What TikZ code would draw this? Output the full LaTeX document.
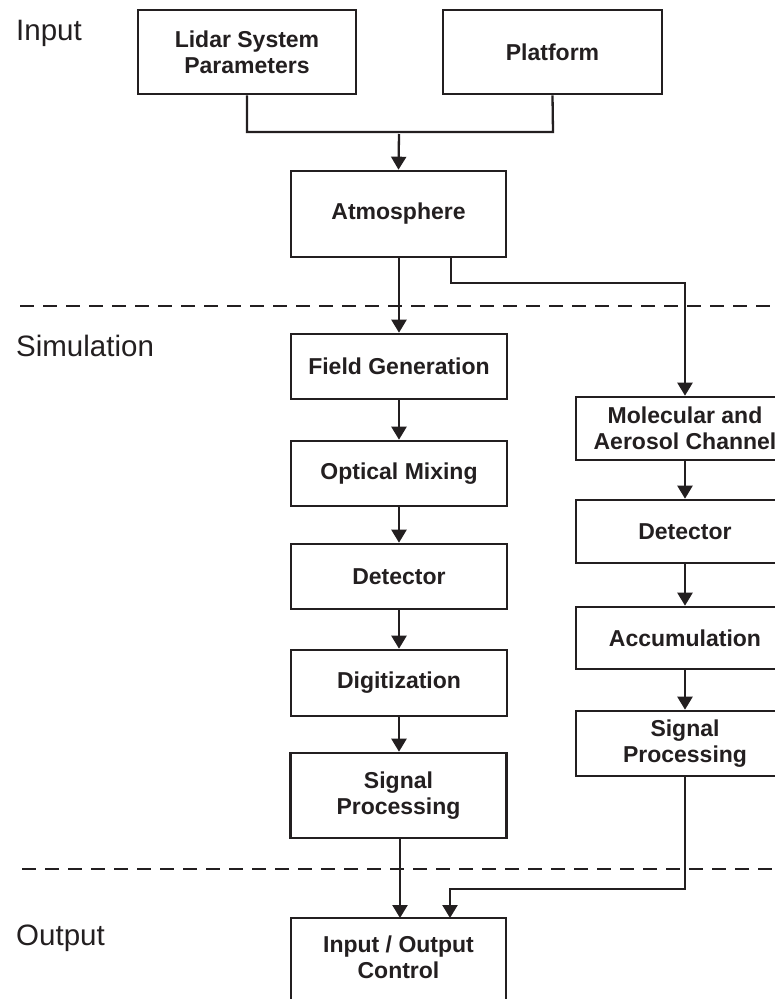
\documentclass[tikz,border=0pt]{standalone}
\usepackage{fontspec}
\setmainfont{Liberation Sans}
\usetikzlibrary{arrows.meta}
\definecolor{ink}{RGB}{35,31,32}
\tikzset{
  blk/.style={draw=ink, line width=2.6pt, text=ink, align=center, inner sep=0pt,
    font=\fontsize{23}{26}\selectfont\bfseries},
  conn/.style={draw=ink, line width=2.3pt},
  arr/.style={conn, -{Triangle[length=13pt,width=15pt]}},
  sep/.style={draw=ink, line width=2.6pt, dash pattern=on 14pt off 9pt},
  lbl/.style={anchor=west, text=ink, inner sep=0pt, font=\fontsize{29.5}{32}\selectfont}
}
\begin{document}
\begin{tikzpicture}[x=1pt,y=-1pt]
\path[use as bounding box, clip] (0,0) rectangle (775,999);
\fill[white] (0,0) rectangle (775,999);

% labels
\node[lbl] (lin) at (16,33) {Input};
\node[lbl] (lsim) at (16,346) {Simulation};
\node[lbl] (lout) at (16,938) {Output};

% separators
\coordinate (s1a) at (20,306);
\coordinate (s1b) at (780,306);
\coordinate (s2a) at (22,869);
\coordinate (s2b) at (780,869);
\draw[sep] (s1a) -- (s1b);
\draw[sep] (s2a) -- (s2b);

% input boxes
\node[blk, minimum width=218pt, minimum height=84pt] (lidar) at (247,52) {Lidar System\\Parameters};
\node[blk, minimum width=219pt, minimum height=84pt] (plat) at (552.5,52) {Platform};
\node[blk, minimum width=215pt, minimum height=86pt] (atm) at (398.5,214) {Atmosphere};

% left column
\node[blk, minimum width=216pt, minimum height=65pt] (fg) at (399,366.5) {Field Generation};
\node[blk, minimum width=216pt, minimum height=65pt] (om) at (399,473.5) {Optical Mixing};
\node[blk, minimum width=216pt, minimum height=65pt] (detl) at (399,576.5) {Detector};
\node[blk, minimum width=216pt, minimum height=66pt] (dig) at (399,683) {Digitization};
\node[blk, minimum width=216pt, minimum height=85pt] (spl) at (398.5,795.5) {Signal\\Processing};

% right column
\node[blk, minimum width=218pt, minimum height=63pt] (mol) at (685,428.5) {Molecular and\\Aerosol Channel};
\node[blk, minimum width=218pt, minimum height=63pt] (detr) at (685,531.5) {Detector};
\node[blk, minimum width=218pt, minimum height=62pt] (acc) at (685,638) {Accumulation};
\node[blk, minimum width=218pt, minimum height=65pt] (spr) at (685,743.5) {Signal\\Processing};

% output
\node[blk, minimum width=215pt, minimum height=86pt] (io) at (398.5,961) {};
\node[blk, draw=none] (iot) at (398.5,957) {Input / Output\\Control};

% connectors top
\coordinate (jl) at (247,132);
\coordinate (jr) at (553,132);
\coordinate (jm) at (399,134);
\draw[conn] (lidar.south) -- (jl) -- (jr) -- (plat.south);
\draw[arr] (jm) -- (atm.north);

% atmosphere branches
\draw[arr] (atm.south -| fg.north) -- (fg.north);
\coordinate (b1) at (451,257);
\coordinate (b2) at (451,283);
\coordinate (b3) at (685,283);
\draw[arr] (b1) -- (b2) -- (b3) -- (mol.north);

% left chain
\draw[arr] (fg.south) -- (om.north);
\draw[arr] (om.south) -- (detl.north);
\draw[arr] (detl.south) -- (dig.north);
\draw[arr] (dig.south) -- (spl.north -| dig.south);

% right chain
\draw[arr] (mol.south) -- (detr.north);
\draw[arr] (detr.south) -- (acc.north);
\draw[arr] (acc.south) -- (spr.north);

% to output
\coordinate (o1) at (400,838);
\coordinate (o1e) at (400,918);
\draw[arr] (o1) -- (o1e);
\coordinate (r1) at (685,889);
\coordinate (r2) at (450,889);
\coordinate (r3) at (450,918);
\draw[arr] (spr.south) -- (r1) -- (r2) -- (r3);
\end{tikzpicture}
\end{document}
